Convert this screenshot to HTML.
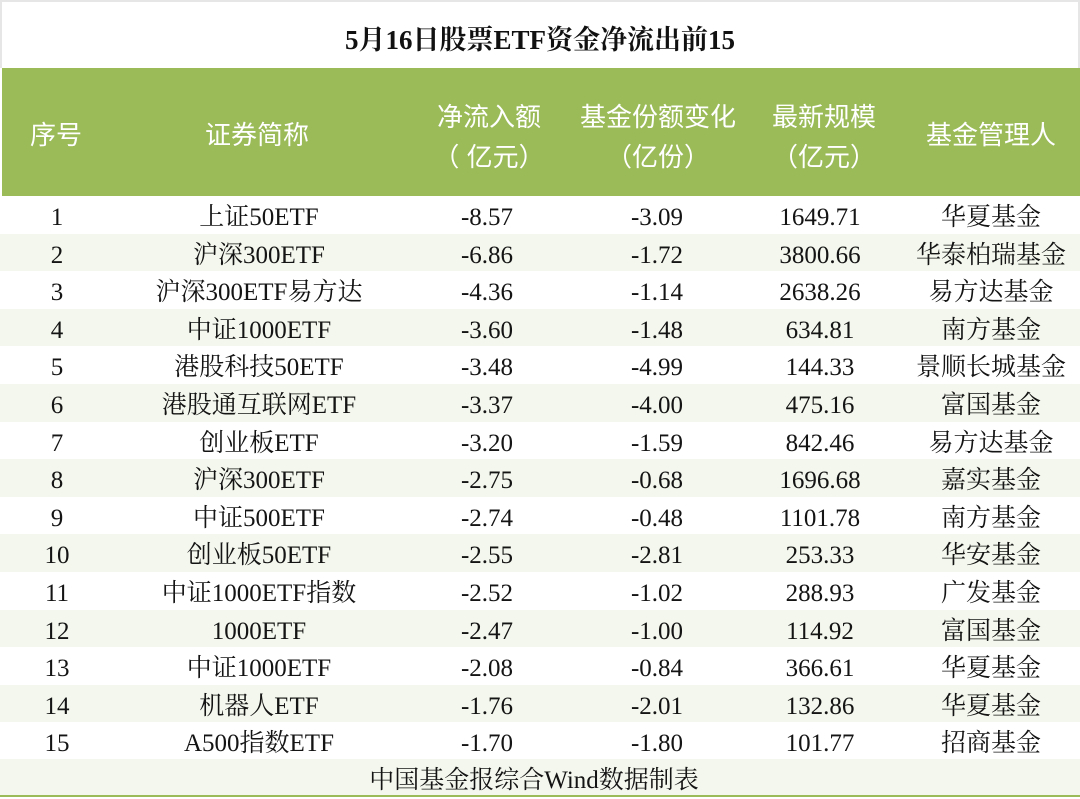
<!DOCTYPE html>
<html>
<head>
<meta charset="utf-8">
<style>
  html,body{margin:0;padding:0;}
  body{width:1080px;height:797px;position:relative;overflow:hidden;background:#fff;
       font-family:"Liberation Serif","Noto Serif CJK SC",serif;color:#141414;}
  .abs{position:absolute;}
  .topline{left:0;top:0;width:1080px;height:2px;background:#e6e6e6;}
  .lline{left:0;top:0;width:2px;height:68px;background:#e6e6e6;}
  .rline{left:1078px;top:0;width:2px;height:68px;background:#e6e6e6;}
  .title{left:0;top:6px;width:1080px;height:68px;line-height:68px;text-align:center;
         font-size:27px;font-weight:bold;color:#111;}
  .hdr{left:2px;top:68px;width:1078px;height:128px;background:#9bbb59;}
  .h{position:absolute;width:240px;text-align:center;color:#fff;font-size:26px;
     font-family:"Liberation Sans","Noto Sans CJK SC",sans-serif;line-height:40px;}
  .row{position:absolute;left:0;width:1080px;}
  .alt{background:#f3f7ed;}
  .c{position:absolute;top:3px;width:260px;text-align:center;font-size:25px;white-space:nowrap;}
  .footer{left:0;top:759px;width:1080px;height:36px;background:#f3f7ed;}
  .ftxt{left:0;top:762px;width:1068px;height:37px;line-height:37px;text-align:center;font-size:25px;}
  .bline{left:0;top:795px;width:1080px;height:2px;background:#9bbb59;}
</style>
</head>
<body>
<div class="abs topline"></div>
<div class="abs lline"></div>
<div class="abs rline"></div>
<div class="abs title">5月16日股票ETF资金净流出前15</div>

<div class="abs hdr"></div>
<div class="h" style="left:-64px;top:115px;">序号</div>
<div class="h" style="left:137px;top:115px;">证券简称</div>
<div class="h" style="left:369px;top:97px;">净流入额</div>
<div class="h" style="left:369px;top:137px;">（ 亿元）</div>
<div class="h" style="left:538px;top:97px;">基金份额变化</div>
<div class="h" style="left:538px;top:137px;">（亿份）</div>
<div class="h" style="left:704px;top:97px;">最新规模</div>
<div class="h" style="left:704px;top:137px;">（亿元）</div>
<div class="h" style="left:871px;top:115px;">基金管理人</div>

<div id="rows"></div>

<div class="row" style="top:196px;height:38px;line-height:38px;">
  <span class="c" style="left:-73px;">1</span><span class="c" style="left:129px;">上证50ETF</span><span class="c" style="left:357px;">-8.57</span><span class="c" style="left:527px;">-3.09</span><span class="c" style="left:690px;">1649.71</span><span class="c" style="left:861px;">华夏基金</span>
</div>
<div class="row alt" style="top:234px;height:37px;line-height:37px;">
  <span class="c" style="left:-73px;">2</span><span class="c" style="left:129px;">沪深300ETF</span><span class="c" style="left:357px;">-6.86</span><span class="c" style="left:527px;">-1.72</span><span class="c" style="left:690px;">3800.66</span><span class="c" style="left:861px;">华泰柏瑞基金</span>
</div>
<div class="row" style="top:271px;height:38px;line-height:38px;">
  <span class="c" style="left:-73px;">3</span><span class="c" style="left:129px;">沪深300ETF易方达</span><span class="c" style="left:357px;">-4.36</span><span class="c" style="left:527px;">-1.14</span><span class="c" style="left:690px;">2638.26</span><span class="c" style="left:861px;">易方达基金</span>
</div>
<div class="row alt" style="top:309px;height:37px;line-height:37px;">
  <span class="c" style="left:-73px;">4</span><span class="c" style="left:129px;">中证1000ETF</span><span class="c" style="left:357px;">-3.60</span><span class="c" style="left:527px;">-1.48</span><span class="c" style="left:690px;">634.81</span><span class="c" style="left:861px;">南方基金</span>
</div>
<div class="row" style="top:346px;height:38px;line-height:38px;">
  <span class="c" style="left:-73px;">5</span><span class="c" style="left:129px;">港股科技50ETF</span><span class="c" style="left:357px;">-3.48</span><span class="c" style="left:527px;">-4.99</span><span class="c" style="left:690px;">144.33</span><span class="c" style="left:861px;">景顺长城基金</span>
</div>
<div class="row alt" style="top:384px;height:38px;line-height:38px;">
  <span class="c" style="left:-73px;">6</span><span class="c" style="left:129px;">港股通互联网ETF</span><span class="c" style="left:357px;">-3.37</span><span class="c" style="left:527px;">-4.00</span><span class="c" style="left:690px;">475.16</span><span class="c" style="left:861px;">富国基金</span>
</div>
<div class="row" style="top:422px;height:37px;line-height:37px;">
  <span class="c" style="left:-73px;">7</span><span class="c" style="left:129px;">创业板ETF</span><span class="c" style="left:357px;">-3.20</span><span class="c" style="left:527px;">-1.59</span><span class="c" style="left:690px;">842.46</span><span class="c" style="left:861px;">易方达基金</span>
</div>
<div class="row alt" style="top:459px;height:38px;line-height:38px;">
  <span class="c" style="left:-73px;">8</span><span class="c" style="left:129px;">沪深300ETF</span><span class="c" style="left:357px;">-2.75</span><span class="c" style="left:527px;">-0.68</span><span class="c" style="left:690px;">1696.68</span><span class="c" style="left:861px;">嘉实基金</span>
</div>
<div class="row" style="top:497px;height:37px;line-height:37px;">
  <span class="c" style="left:-73px;">9</span><span class="c" style="left:129px;">中证500ETF</span><span class="c" style="left:357px;">-2.74</span><span class="c" style="left:527px;">-0.48</span><span class="c" style="left:690px;">1101.78</span><span class="c" style="left:861px;">南方基金</span>
</div>
<div class="row alt" style="top:534px;height:38px;line-height:38px;">
  <span class="c" style="left:-73px;">10</span><span class="c" style="left:129px;">创业板50ETF</span><span class="c" style="left:357px;">-2.55</span><span class="c" style="left:527px;">-2.81</span><span class="c" style="left:690px;">253.33</span><span class="c" style="left:861px;">华安基金</span>
</div>
<div class="row" style="top:572px;height:38px;line-height:38px;">
  <span class="c" style="left:-73px;">11</span><span class="c" style="left:129px;">中证1000ETF指数</span><span class="c" style="left:357px;">-2.52</span><span class="c" style="left:527px;">-1.02</span><span class="c" style="left:690px;">288.93</span><span class="c" style="left:861px;">广发基金</span>
</div>
<div class="row alt" style="top:610px;height:37px;line-height:37px;">
  <span class="c" style="left:-73px;">12</span><span class="c" style="left:129px;">1000ETF</span><span class="c" style="left:357px;">-2.47</span><span class="c" style="left:527px;">-1.00</span><span class="c" style="left:690px;">114.92</span><span class="c" style="left:861px;">富国基金</span>
</div>
<div class="row" style="top:647px;height:38px;line-height:38px;">
  <span class="c" style="left:-73px;">13</span><span class="c" style="left:129px;">中证1000ETF</span><span class="c" style="left:357px;">-2.08</span><span class="c" style="left:527px;">-0.84</span><span class="c" style="left:690px;">366.61</span><span class="c" style="left:861px;">华夏基金</span>
</div>
<div class="row alt" style="top:685px;height:37px;line-height:37px;">
  <span class="c" style="left:-73px;">14</span><span class="c" style="left:129px;">机器人ETF</span><span class="c" style="left:357px;">-1.76</span><span class="c" style="left:527px;">-2.01</span><span class="c" style="left:690px;">132.86</span><span class="c" style="left:861px;">华夏基金</span>
</div>
<div class="row" style="top:722px;height:37px;line-height:37px;">
  <span class="c" style="left:-73px;">15</span><span class="c" style="left:129px;">A500指数ETF</span><span class="c" style="left:357px;">-1.70</span><span class="c" style="left:527px;">-1.80</span><span class="c" style="left:690px;">101.77</span><span class="c" style="left:861px;">招商基金</span>
</div>

<div class="abs footer"></div>
<div class="abs ftxt">中国基金报综合Wind数据制表</div>
<div class="abs bline"></div>
</body>
</html>
